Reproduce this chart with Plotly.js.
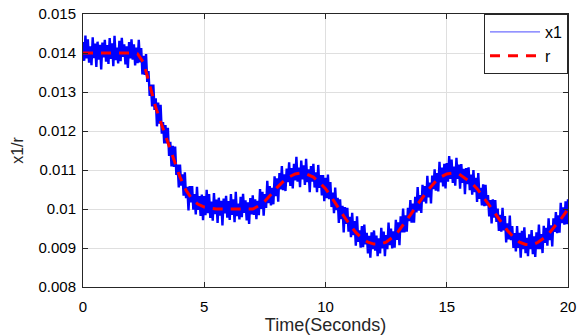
<!DOCTYPE html>
<html>
<head>
<meta charset="utf-8">
<script src="https://cdn.plot.ly/plotly-3.0.1.min.js"></script>
<style>html,body{margin:0;padding:0;background:#fff;}#chart{width:578px;height:336px;}</style>
</head>
<body>
<div id="chart"></div>
<script>
// x1 sampled every 0.05 s from t = 0 to 20 (401 samples)
const x1Start = 0, x1Step = 0.05;
const x1Values = [
0.01428,0.01380,0.01445,0.01386,0.01435,0.01375,0.01417,0.01369,0.01440,0.01387,0.01424,0.01364,0.01429,0.01383,0.01421,0.01358,0.01427,0.01389,0.01434,0.01378,
0.01420,0.01372,0.01438,0.01385,0.01425,0.01366,0.01444,0.01382,0.01414,0.01373,0.01431,0.01379,0.01439,0.01390,0.01422,0.01371,0.01417,0.01362,0.01428,0.01386,
0.01435,0.01383,0.01422,0.01368,0.01414,0.01374,0.01434,0.01376,0.01413,0.01345,0.01393,0.01344,0.01397,0.01326,0.01354,0.01290,0.01319,0.01263,0.01319,0.01254,
0.01284,0.01212,0.01273,0.01219,0.01267,0.01193,0.01223,0.01168,0.01215,0.01168,0.01208,0.01136,0.01172,0.01109,0.01162,0.01108,0.01160,0.01087,0.01114,0.01055,
0.01114,0.01060,0.01089,0.01034,0.01094,0.01028,0.01057,0.00996,0.01059,0.01017,0.01059,0.00998,0.01038,0.00986,0.01057,0.00998,0.01033,0.00982,0.01037,0.00971,
0.01033,0.00984,0.01049,0.00989,0.01038,0.00977,0.01019,0.00970,0.01041,0.00987,0.01024,0.00964,0.01029,0.00983,0.01021,0.00958,0.01027,0.00989,0.01034,0.00978,
0.01020,0.00972,0.01038,0.00985,0.01025,0.00966,0.01044,0.00982,0.01014,0.00973,0.01031,0.00979,0.01039,0.00990,0.01022,0.00971,0.01017,0.00962,0.01028,0.00986,
0.01035,0.00985,0.01025,0.00974,0.01021,0.00984,0.01051,0.01000,0.01044,0.00983,0.01038,0.01003,0.01072,0.01015,0.01059,0.01009,0.01054,0.01012,0.01084,0.01033,
0.01079,0.01019,0.01092,0.01050,0.01110,0.01048,0.01089,0.01046,0.01104,0.01069,0.01120,0.01059,0.01105,0.01053,0.01116,0.01073,0.01134,0.01070,0.01106,0.01056,
0.01124,0.01076,0.01112,0.01062,0.01129,0.01069,0.01102,0.01043,0.01110,0.01070,0.01116,0.01055,0.01094,0.01043,0.01113,0.01054,0.01087,0.01035,0.01087,0.01020,
0.01080,0.01028,0.01088,0.01025,0.01069,0.01005,0.01042,0.00989,0.01055,0.00997,0.01029,0.00964,0.01025,0.00974,0.01008,0.00940,0.01005,0.00962,0.01003,0.00942,
0.00980,0.00928,0.00990,0.00933,0.00969,0.00906,0.00981,0.00916,0.00945,0.00901,0.00956,0.00902,0.00960,0.00909,0.00939,0.00886,0.00931,0.00875,0.00940,0.00897,
0.00945,0.00893,0.00932,0.00879,0.00925,0.00886,0.00952,0.00899,0.00942,0.00879,0.00933,0.00897,0.00965,0.00907,0.00950,0.00899,0.00943,0.00901,0.00972,0.00921,
0.00966,0.00907,0.00981,0.00940,0.01001,0.00940,0.00984,0.00942,0.01003,0.00969,0.01023,0.00965,0.01014,0.00965,0.01031,0.00991,0.01056,0.00996,0.01036,0.00990,
0.01062,0.01019,0.01059,0.01014,0.01085,0.01030,0.01068,0.01014,0.01086,0.01051,0.01102,0.01047,0.01092,0.01045,0.01121,0.01068,0.01106,0.01058,0.01116,0.01053,
0.01118,0.01070,0.01136,0.01077,0.01127,0.01067,0.01109,0.01060,0.01131,0.01077,0.01114,0.01052,0.01115,0.01067,0.01103,0.01038,0.01105,0.01064,0.01107,0.01048,
0.01088,0.01037,0.01100,0.01043,0.01080,0.01018,0.01092,0.01026,0.01054,0.01009,0.01063,0.01007,0.01062,0.01009,0.01036,0.00981,0.01023,0.00963,0.01025,0.00978,
0.01023,0.00967,0.01001,0.00944,0.00985,0.00942,0.01003,0.00945,0.00982,0.00914,0.00963,0.00922,0.00983,0.00920,0.00956,0.00900,0.00938,0.00891,0.00956,0.00900,
0.00939,0.00875,0.00944,0.00897,0.00953,0.00887,0.00926,0.00879,0.00935,0.00897,0.00946,0.00884,0.00930,0.00877,0.00940,0.00897,0.00960,0.00897,0.00936,0.00887,
0.00957,0.00913,0.00952,0.00906,0.00976,0.00920,0.00958,0.00904,0.00976,0.00941,0.00992,0.00938,0.00984,0.00939,0.01016,0.00964,0.01004,0.00960,0.01020,0.00961,
0.01025
];

// r sampled every 0.25 s from t = 0 to 20 (81 samples)
const rStart = 0, rStep = 0.25;
const rValues = [
0.01400,0.01400,0.01400,0.01400,0.01400,0.01400,0.01400,0.01400,0.01400,
0.01398,0.01375,0.01318,0.01260,0.01215,0.01170,0.01125,0.01082,0.01048,0.01025,0.01012,0.01005,
0.01002,0.01000,0.01000,0.01000,0.01000,0.01000,0.01000,0.01000,
0.01008,0.01020,0.01037,0.01055,0.01070,0.01082,0.01090,0.01092,
0.01089,0.01082,0.01068,0.01052,0.01030,0.01005,0.00982,0.00960,
0.00940,0.00925,0.00915,0.00910,0.00910,0.00915,0.00927,0.00942,
0.00962,0.00985,0.01008,0.01030,0.01050,0.01068,0.01082,0.01090,
0.01092,0.01090,0.01080,0.01068,0.01052,0.01032,0.01010,0.00988,
0.00966,0.00945,0.00928,0.00915,0.00909,0.00908,0.00914,0.00925,
0.00940,0.00958,0.00978,0.01000
];

const seriesNames = ['x1', 'r'];
const xTitle = 'Time(Seconds)';
const yTitle = 'x1/r';

const traces = [
  // the dense x1 signal (drawn thick so the noise band reads as solid, as in the reference)
  {type:'scatter', mode:'lines', name:seriesNames[0], x0:x1Start, dx:x1Step, y:x1Values,
   line:{color:'#0000ff', width:2.4}, showlegend:false, legendgroup:'x1'},
  // legend-only entry for x1 with a thin line
  {type:'scatter', mode:'lines', name:seriesNames[0], x:[null], y:[null],
   line:{color:'#6f6fff', width:1.2}, showlegend:true, legendgroup:'x1'},
  {type:'scatter', mode:'lines', name:seriesNames[1], x0:rStart, dx:rStep, y:rValues,
   line:{color:'#ff0000', width:3, dash:'10px,8px'}}
];

const fam = '"Liberation Sans", Arial, sans-serif';

const layout = {
  width:578, height:336,
  margin:{l:83, r:10, t:14, b:49},
  paper_bgcolor:'#ffffff', plot_bgcolor:'#ffffff',
  font:{family:fam, size:15, color:'#262626'},
  showlegend:true,
  legend:{x:1, y:1, xanchor:'right', yanchor:'top', bgcolor:'#ffffff', itemwidth:50,
          tracegroupgap:0,
          bordercolor:'#262626', borderwidth:1, font:{family:fam, size:16, color:'#000000'}},
  xaxis:{range:[0,20], dtick:5, tick0:0, ticks:'inside', ticklen:5, tickcolor:'#262626',
         showline:true, mirror:'ticks', linecolor:'#262626', linewidth:1,
         showgrid:true, gridcolor:'#dfdfdf', gridwidth:1, zeroline:false,
         ticklabelstandoff:6,
         tickfont:{family:fam, size:15, color:'#000000'},
         title:{text:xTitle, font:{family:fam, size:18, color:'#262626'}, standoff:3}},
  yaxis:{range:[0.008,0.015], dtick:0.001, tick0:0.008, ticks:'inside', ticklen:5, tickcolor:'#262626',
         showline:true, mirror:'ticks', linecolor:'#262626', linewidth:1,
         showgrid:true, gridcolor:'#dfdfdf', gridwidth:1, zeroline:false,
         ticklabelstandoff:3,
         tickfont:{family:fam, size:15, color:'#000000'},
         title:{text:yTitle, font:{family:fam, size:16, color:'#262626'}, standoff:10}}
};

Plotly.newPlot('chart', traces, layout, {displayModeBar:false, staticPlot:true});
</script>
</body>
</html>
